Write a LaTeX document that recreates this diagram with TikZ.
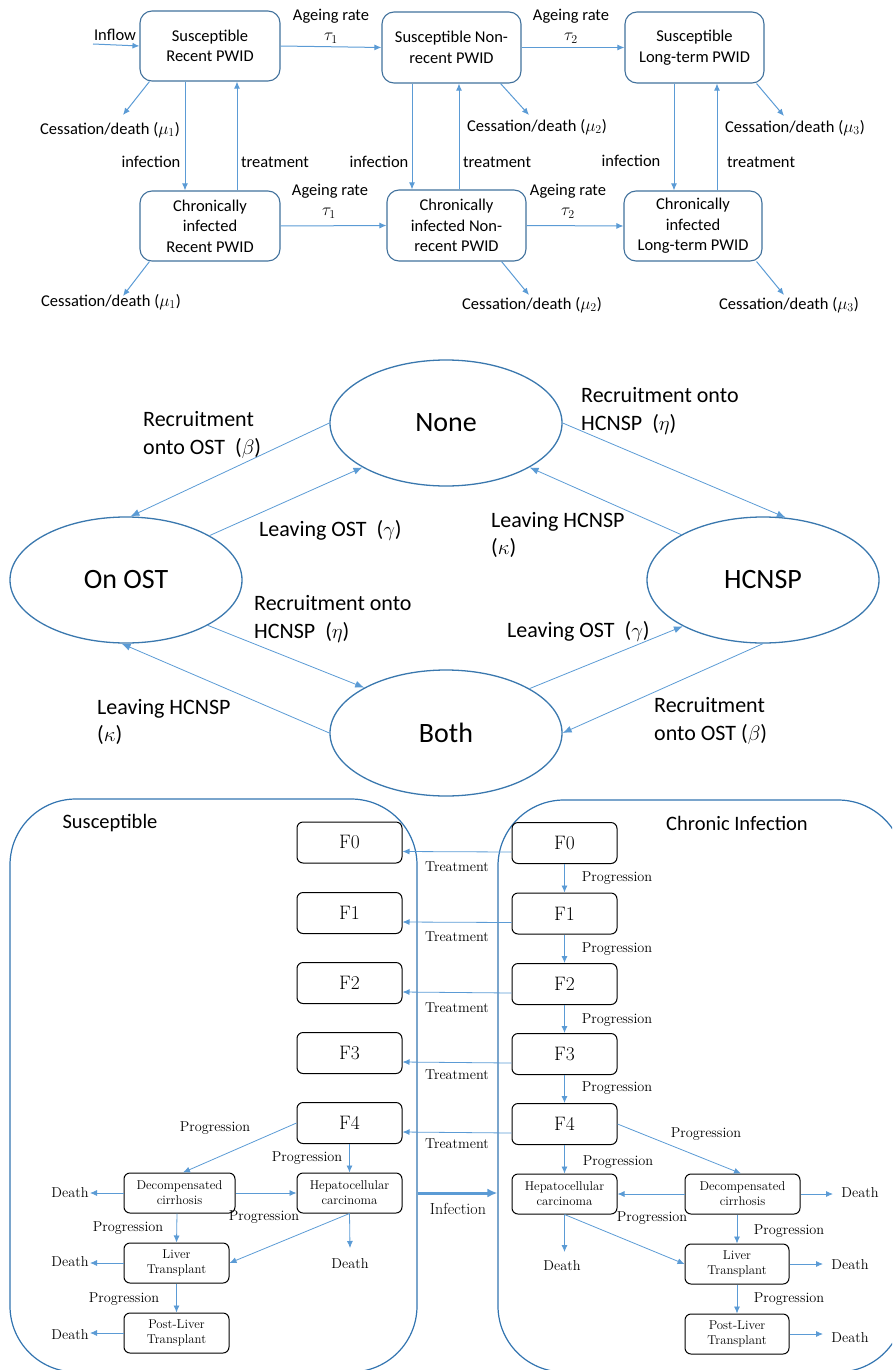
\documentclass[tikz,border=0pt]{standalone}
\usepackage{fontspec}
\setsansfont{Carlito}
\usetikzlibrary{arrows.meta,shapes.geometric}
\definecolor{boxblue}{HTML}{41719C}
\definecolor{arrblue}{HTML}{5B9BD5}
\definecolor{ellblue}{HTML}{3A78AE}
\definecolor{bigblue}{HTML}{3274B0}
\begin{document}
\begin{tikzpicture}[x=1pt,y=-1pt,
 tbox/.style={draw=boxblue,line width=1.1,rounded corners=12,align=center,inner sep=0,font=\sffamily\fontsize{16.5}{20.5}\selectfont},
 tlab/.style={font=\sffamily\fontsize{16.5}{20.5}\selectfont,inner sep=0},
 tarr/.style={draw=arrblue,line width=1.0,-{Latex[length=7pt,width=6pt]}},
 ell/.style={ellipse,draw=ellblue,line width=1.3,minimum width=232,minimum height=126,inner sep=0,font=\sffamily\fontsize{28}{32}\selectfont},
 mlab/.style={font=\sffamily\fontsize{22}{27.5}\selectfont,align=left,inner sep=0,anchor=west},
 marr/.style={draw=arrblue,line width=0.8,-{Latex[length=9pt,width=7pt]}},
 big/.style={draw=bigblue,line width=1.2,rounded corners=66,inner sep=0},
 fbox/.style={draw=black,line width=1,rounded corners=6,minimum width=105,minimum height=41,inner sep=0,font=\fontsize{19.5}{22}\selectfont},
 sbox/.style={draw=black,line width=1,rounded corners=6,minimum height=40,inner sep=0,align=center,font=\fontsize{12.8}{15}\selectfont},
 blab/.style={font=\fontsize{14.3}{16}\selectfont,inner sep=0},
 biglab/.style={font=\sffamily\fontsize{20.5}{24}\selectfont,inner sep=0},
 barr/.style={draw=arrblue,line width=0.8,-{Latex[length=7pt,width=6pt]}},
]
\useasboundingbox (0,0) rectangle (892,1370);
\clip (0,0) rectangle (892,1370);

% ---------------- top section ----------------
\node[tbox,minimum width=140,minimum height=70] (s1) at (210,46) {Susceptible\\Recent PWID};
\node[tbox,minimum width=139,minimum height=71] (s2) at (451.5,47.5) {Susceptible Non-\\recent PWID};
\node[tbox,minimum width=139,minimum height=71] (s3) at (694.5,47.5) {Susceptible\\Long-term PWID};
\node[tbox,minimum width=140,minimum height=70] (c1) at (210,226) {Chronically\\infected\\Recent PWID};
\node[tbox,minimum width=139,minimum height=71] (c2) at (456.5,225.5) {Chronically\\infected Non-\\recent PWID};
\node[tbox,minimum width=138,minimum height=70] (c3) at (693,226) {Chronically\\infected\\Long-term PWID};

\coordinate (inflow) at (93,44);
\draw[tarr] (inflow) -- (s1.west);
\node[tlab] (linflow) at (115,35) {Inflow};

\draw[tarr] (s1.east) -- (s2.west);
\node[tlab] (ag1) at (331,16) {Ageing rate};
\node[tlab] (t1) at (331,38) {$\tau_1$};
\draw[tarr] (s2.east) -- (s3.west);
\node[tlab] (ag2) at (571,16) {Ageing rate};
\node[tlab] (t2) at (571,38) {$\tau_2$};
\draw[tarr] (c1.east) -- (c2.west);
\node[tlab] (ag3) at (330,191) {Ageing rate};
\node[tlab] (t3) at (329,213) {$\tau_1$};
\draw[tarr] (c2.east) -- (c3.west);
\node[tlab] (ag4) at (568,191) {Ageing rate};
\node[tlab] (t4) at (568,213) {$\tau_2$};

% cessation
\coordinate (e1) at (123,115);
\coordinate (e2) at (123,296);
\coordinate (e3) at (529,115);
\coordinate (e4) at (529,295);
\coordinate (e5) at (784,116);
\coordinate (e6) at (784,295);
\draw[tarr] ([xshift=10]s1.south west) -- (e1);
\draw[tarr] ([xshift=10]c1.south west) -- (e2);
\draw[tarr] ([xshift=-21]s2.south east) -- (e3);
\draw[tarr] ([xshift=-25]c2.south east) -- (e4);
\draw[tarr] ([xshift=-8]s3.south east) -- (e5);
\draw[tarr] ([xshift=-6]c3.south east) -- (e6);
\node[tlab] (cd1) at (110,130) {Cessation/death ($\mu_1$)};
\node[tlab] (cd2) at (111,302) {Cessation/death ($\mu_1$)};
\node[tlab] (cd3) at (537,127) {Cessation/death ($\mu_2$)};
\node[tlab] (cd4) at (532,305) {Cessation/death ($\mu_2$)};
\node[tlab] (cd5) at (795,128) {Cessation/death ($\mu_3$)};
\node[tlab] (cd6) at (789,305) {Cessation/death ($\mu_3$)};

% infection / treatment
\draw[tarr] ([xshift=-25]s1.south) -- ([xshift=-25]c1.north);
\draw[tarr] ([xshift=27]c1.north) -- ([xshift=27]s1.south);
\node[tlab] (i1) at (151,162) {infection};
\node[tlab] (r1) at (275,162) {treatment};
\draw[tarr] ([xshift=-39.5]s2.south) -- ([xshift=-44.5]c2.north);
\draw[tarr] ([xshift=2.5]c2.north) -- ([xshift=7.5]s2.south);
\node[tlab] (i2) at (379,162) {infection};
\node[tlab] (r2) at (497,162) {treatment};
\draw[tarr] ([xshift=-20.5]s3.south) -- ([xshift=-19]c3.north);
\draw[tarr] ([xshift=24]c3.north) -- ([xshift=22.5]s3.south);
\node[tlab] (i3) at (631,161) {infection};
\node[tlab] (r3) at (761,162) {treatment};

% ---------------- middle section ----------------
\node[ell] (none) at (446,423) {None};
\node[ell] (ost) at (126,580) {On OST};
\node[ell] (hcnsp) at (763,580) {HCNSP};
\node[ell] (both) at (446,733) {Both};

\draw[marr] (none.180) -- (ost.86);
\draw[marr] (ost.28.5) -- (none.208);
\draw[marr] (none.0) -- (hcnsp.70);
\draw[marr] (hcnsp.151) -- (none.332);
\draw[marr] (ost.331) -- (both.151.5);
\draw[marr] (both.180) -- (ost.266);
\draw[marr] (both.28.7) -- (hcnsp.210);
\draw[marr] (hcnsp.270) -- (both.0);

\node[mlab] (m1) at (143,435) {Recruitment\\onto OST~~($\beta$)};
\node[mlab] (m2) at (259,530) {Leaving OST~~($\gamma$)};
\node[mlab] (m3) at (581,411) {Recruitment onto\\HCNSP~~($\eta$)};
\node[mlab] (m4) at (491,535) {Leaving HCNSP\\($\kappa$)};
\node[mlab] (m5) at (254,619) {Recruitment onto\\HCNSP~~($\eta$)};
\node[mlab] (m6) at (97,722) {Leaving HCNSP\\($\kappa$)};
\node[mlab] (m7) at (507,631) {Leaving OST~~($\gamma$)};
\node[mlab] (m8) at (654,721) {Recruitment\\onto OST ($\beta$)};

% ---------------- bottom section ----------------
\node[big,minimum width=407,minimum height=573] (lbig) at (213.5,1085.5) {};
\node[big,minimum width=406,minimum height=572] (rbig) at (701,1086) {};
\node[biglab] (lsus) at (110,823) {Susceptible};
\node[biglab] (rci) at (737,823) {Chronic Infection};

\node[fbox] (lF0) at (349.5,842.5) {F0};
\node[fbox] (lF1) at (349.5,913) {F1};
\node[fbox] (lF2) at (349.5,983) {F2};
\node[fbox] (lF3) at (349.5,1053) {F3};
\node[fbox] (lF4) at (349.5,1123) {F4};
\node[fbox] (rF0) at (564.5,843) {F0};
\node[fbox] (rF1) at (564.5,913.5) {F1};
\node[fbox] (rF2) at (564.5,984) {F2};
\node[fbox] (rF3) at (564.5,1054) {F3};
\node[fbox] (rF4) at (564.5,1124) {F4};

\foreach \k/\yy in {0/867,1/937,2/1008,3/1075,4/1144}{
  \draw[barr] ([yshift=-9]rF\k.west) -- ([yshift=-9]lF\k.east);
  \node[blab] (tr\k) at (457,\yy) {Treatment};
}
\foreach \a/\b/\yy in {0/1/878,1/2/949,2/3/1020,3/4/1088}{
  \draw[barr] (rF\a.south) -- (rF\b.north);
  \node[blab] (pr\a) at (617,\yy) {Progression};
}

% left complications
\node[sbox,minimum width=111] (lDC) at (179.5,1193) {Decompensated\\cirrhosis};
\node[sbox,minimum width=105] (lHCC) at (349.5,1193) {Hepatocellular\\carcinoma};
\node[sbox,minimum width=105] (lLT) at (176.5,1263) {Liver\\Transplant};
\node[sbox,minimum width=105] (lPLT) at (176.5,1333) {Post-Liver\\Transplant};

\coordinate (ld1) at (90,1193);
\coordinate (ld2) at (350,1248);
\coordinate (ld3) at (90,1263);
\coordinate (ld4) at (90,1333);
\draw[barr] (lF4.south) -- (lHCC.north);
\node[blab] (lp1) at (307,1158) {Progression};
\draw[barr] (lF4.west) -- ([xshift=3.5]lDC.north);
\node[blab] (lp2) at (215,1128) {Progression};
\draw[barr] (lDC.east) -- (lHCC.west);
\node[blab] (lp3) at (264,1217) {Progression};
\draw[barr] (lDC.west) -- (ld1);
\node[blab] (ldt1) at (70,1193) {Death};
\draw[barr] ([xshift=-2.5]lDC.south) -- (lLT.north);
\node[blab] (lp4) at (128,1228) {Progression};
\draw[barr] (lHCC.south) -- (ld2);
\node[blab] (ldt2) at (350,1264) {Death};
\draw[barr] (lHCC.south) -- (lLT.east);
\draw[barr] (lLT.west) -- (ld3);
\node[blab] (ldt3) at (70,1262) {Death};
\draw[barr] (lLT.south) -- (lPLT.north);
\node[blab] (lp5) at (124,1299) {Progression};
\draw[barr] (lPLT.west) -- (ld4);
\node[blab] (ldt4) at (70,1335) {Death};

% right complications
\node[sbox,minimum width=105] (rHCC) at (564.5,1194) {Hepatocellular\\carcinoma};
\node[sbox,minimum width=115] (rDC) at (742.5,1194) {Decompensated\\cirrhosis};
\node[sbox,minimum width=104] (rLT) at (737,1264) {Liver\\Transplant};
\node[sbox,minimum width=104] (rPLT) at (737,1334) {Post-Liver\\Transplant};

\coordinate (rd1) at (833,1194);
\coordinate (rd2) at (564.5,1252);
\coordinate (rd3) at (823,1264);
\coordinate (rd4) at (823,1334);
\draw[barr] (rF4.south) -- (rHCC.north);
\node[blab] (rp1) at (618,1162) {Progression};
\draw[barr] (rF4.east) -- ([xshift=-1.5]rDC.north);
\node[blab] (rp2) at (706,1134) {Progression};
\draw[barr] (rDC.west) -- (rHCC.east);
\node[blab] (rp3) at (652,1218) {Progression};
\draw[barr] (rDC.east) -- (rd1);
\node[blab] (rdt1) at (860,1193) {Death};
\draw[barr] ([xshift=-5.5]rDC.south) -- (rLT.north);
\node[blab] (rp4) at (789,1231) {Progression};
\draw[barr] (rHCC.south) -- (rd2);
\node[blab] (rdt2) at (562,1266) {Death};
\draw[barr] (rHCC.south) -- (rLT.west);
\draw[barr] (rLT.east) -- (rd3);
\node[blab] (rdt3) at (850,1265) {Death};
\draw[barr] (rLT.south) -- (rPLT.north);
\node[blab] (rp5) at (789,1299) {Progression};
\draw[barr] (rPLT.east) -- (rd4);
\node[blab] (rdt4) at (850,1338) {Death};

% infection
\draw[draw=arrblue,line width=3,-{Latex[length=10pt,width=9pt]}] (lbig.east |- lHCC.east) -- (rbig.west |- lHCC.east);
\node[font=\fontsize{16}{19}\selectfont,inner sep=0] (linf) at (458,1209) {Infection};
\end{tikzpicture}
\end{document}
